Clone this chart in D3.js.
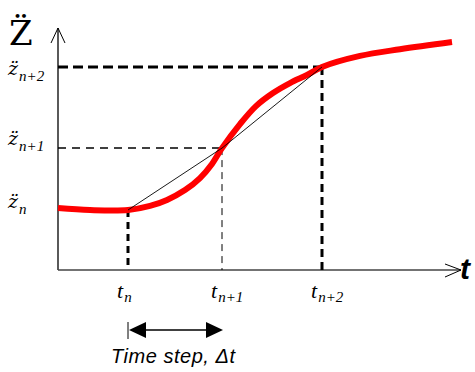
<!DOCTYPE html>
<html><head><meta charset="utf-8">
<script src="https://cdn.jsdelivr.net/npm/d3@7"></script>
<style>body{margin:0;background:#fff}svg{display:block}</style>
</head><body>
<svg id="c" width="475" height="372"></svg>
<script>
// Data (abstract units: time 0..100, acceleration 0..100)
const curveT = [0, 8, 17.5, 23, 27.25, 31.75, 35.5, 38.5, 41, 45.5, 49.5, 53.75, 58, 62.25, 66, 75.5, 85.5, 98.5];
const curveA = [25.8, 25, 25, 26.7, 29.2, 33.3, 38.3, 44.2, 50.8, 60.8, 68.3, 73.75, 77.9, 81.25, 84.6, 89.2, 92, 95];
const stepT = [17.5, 41, 66];          // t_n, t_n+1, t_n+2
const stepA = [25, 50.8, 84.6];        // z_n, z_n+1, z_n+2
const stepSub = ["n", "n+1", "n+2"];

const svg = d3.select("#c");
const x = d3.scaleLinear().domain([0, 100]).range([58, 458]);
const y = d3.scaleLinear().domain([0, 100]).range([270, 30]);
const x0 = x(0), y0 = y(0);

// axes
svg.append("line").attr("x1", x0).attr("y1", y0).attr("x2", x0).attr("y2", 28).attr("stroke", "#000").attr("stroke-width", 1.3);
svg.append("line").attr("x1", x0).attr("y1", y0).attr("x2", 461).attr("y2", y0).attr("stroke", "#444").attr("stroke-width", 1.5);
svg.append("path").attr("d", `M${x0-7},${43} L${x0},${28} L${x0+7},${43}`).attr("fill", "none").attr("stroke", "#000").attr("stroke-width", 1);
svg.append("path").attr("d", `M445,${y0-6} L461,${y0} L445,${y0+7}`).attr("fill", "none").attr("stroke", "#000").attr("stroke-width", 1);

// dashed guide lines
const hStyle = [null, {w: 1.5, d: "8,6"}, {w: 3, d: "10,5"}];
const vStyle = [{w: 3, d: "7,5"}, {w: 1, d: "7,5"}, {w: 3, d: "8,5"}];
stepT.forEach((t, i) => {
  if (hStyle[i]) {
    svg.append("line").attr("x1", x0).attr("x2", x(t)).attr("y1", y(stepA[i])).attr("y2", y(stepA[i]))
      .attr("stroke", "#000").attr("stroke-width", hStyle[i].w).attr("stroke-dasharray", hStyle[i].d);
  }
  svg.append("line").attr("x1", x(t)).attr("x2", x(t)).attr("y1", y(stepA[i])).attr("y2", y0)
    .attr("stroke", "#000").attr("stroke-width", vStyle[i].w).attr("stroke-dasharray", vStyle[i].d);
});

// red curve
const line = d3.line().x(d => x(d[0])).y(d => y(d[1])).curve(d3.curveCatmullRom.alpha(0.5));
svg.append("path").datum(curveT.map((t, i) => [t, curveA[i]]))
  .attr("d", line).attr("fill", "none").attr("stroke", "#ff0000").attr("stroke-width", 6).attr("stroke-linecap", "butt");

// chords
for (let i = 0; i < stepT.length - 1; i++) {
  svg.append("line").attr("x1", x(stepT[i])).attr("y1", y(stepA[i])).attr("x2", x(stepT[i+1])).attr("y2", y(stepA[i+1]))
    .attr("stroke", "#000").attr("stroke-width", 0.9);
}

// labels
const serif = "Liberation Serif, Times New Roman, serif";
const dejaSerif = "DejaVu Serif, serif";
svg.append("text").attr("x", 9).attr("y", 45).attr("font-family", dejaSerif).attr("font-size", 34).text("Z\u0308");

const zBase = [208, 145, 75];
stepA.forEach((a, i) => {
  const t = svg.append("text").attr("x", 8).attr("y", zBase[i]).attr("font-family", dejaSerif).attr("font-style", "italic").attr("font-size", 19);
  t.append("tspan").text("z\u0308");
  t.append("tspan").attr("font-family", serif).attr("font-size", 15).attr("dy", 6).attr("dx", 1).text(stepSub[i]);
});
stepT.forEach((tv, i) => {
  const t = svg.append("text").attr("x", x(tv) - 11).attr("y", 298).attr("font-family", serif).attr("font-style", "italic").attr("font-size", 22);
  t.append("tspan").text("t");
  t.append("tspan").attr("font-size", 15).attr("dy", 4).attr("dx", 1).text(stepSub[i]);
});
svg.append("text").attr("x", 460).attr("y", 279).attr("font-family", "Liberation Sans, Arial, sans-serif")
  .attr("font-style", "italic").attr("font-weight", "bold").attr("font-size", 30).text("t");

// time step arrow
const ay = 330, ax1 = x(stepT[0]), ax2 = x(stepT[1]);
svg.append("line").attr("x1", ax1).attr("x2", ax1).attr("y1", 322).attr("y2", 339).attr("stroke", "#000").attr("stroke-width", 1);
svg.append("line").attr("x1", ax1 + 10).attr("x2", ax2 - 10).attr("y1", ay).attr("y2", ay).attr("stroke", "#000").attr("stroke-width", 1.5);
svg.append("path").attr("d", `M${ax1+1},${ay} L${ax1+18},${ay-8} L${ax1+18},${ay+8} Z`).attr("fill", "#000");
svg.append("path").attr("d", `M${ax2+1},${ay} L${ax2-16},${ay-8} L${ax2-16},${ay+8} Z`).attr("fill", "#000");
svg.append("text").attr("x", 111).attr("y", 363).attr("font-family", "Liberation Sans, Arial, sans-serif")
  .attr("font-style", "italic").attr("font-size", 20).attr("textLength", 124).text("Time step, \u0394t");
</script>
</body></html>
